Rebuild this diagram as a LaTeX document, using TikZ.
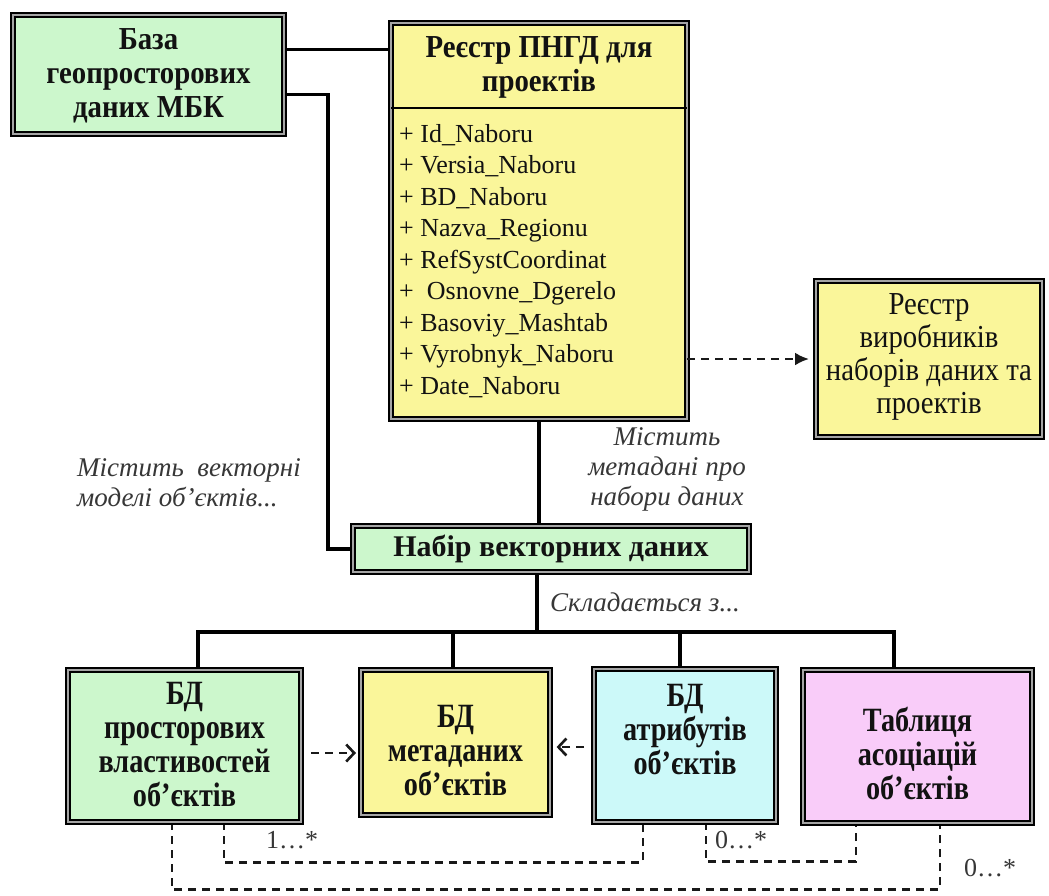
\documentclass[tikz,border=0pt]{standalone}
\usepackage{fontspec}
\setmainfont{Liberation Serif}
\newfontfamily\titlefont{Liberation Serif}[FakeStretch=0.9]
\newfontfamily\boxfont{Liberation Serif}[FakeStretch=0.83]
\usetikzlibrary{arrows.meta,backgrounds}
\definecolor{boxgreen}{RGB}{204,247,204}
\definecolor{boxyellow}{RGB}{250,246,154}
\definecolor{boxcyan}{RGB}{204,249,249}
\definecolor{boxpink}{RGB}{249,204,249}
\definecolor{ink}{RGB}{18,18,18}
\definecolor{note}{RGB}{55,55,55}
\definecolor{band}{RGB}{165,165,165}
\begin{document}
\begin{tikzpicture}[x=1pt,y=-1pt,
  frame/.style={draw=black, line width=2pt, double=band, double distance=1.8pt,
    inner sep=0pt, outer sep=0pt, text=ink, align=center},
  titletext/.style={font=\titlefont\fontsize{32}{34}\selectfont\bfseries, text=ink, align=center, inner sep=0pt},
  boldtext/.style={font=\boxfont\fontsize{34}{34}\selectfont\bfseries, text=ink, align=center, inner sep=0pt},
  plaintext/.style={font=\titlefont\fontsize{32}{33}\selectfont, text=ink, align=center, inner sep=0pt},
  attrtext/.style={font=\fontsize{26}{31.5}\selectfont, text=ink, align=left, inner sep=0pt},
  notetext/.style={font=\fontsize{27}{30}\selectfont\itshape, text=note, inner sep=0pt},
  multtext/.style={font=\fontsize{26}{28}\selectfont, text=note, inner sep=0pt},
  link/.style={draw=black, line width=3.2pt},
  dlink/.style={draw=black!90, line width=2.6pt, dash pattern=on 8pt off 6pt},
  barb/.style={-{Straight Barb[length=8pt,width=17pt,line width=2.6pt]}}
]
\useasboundingbox (0,0) rectangle (1049,895);

% upper boxes
\node[frame, fill=boxgreen, minimum width=271pt, minimum height=119pt] (baza) at (148.5,74.5) {};
\node[titletext] (bazatext) at (148.5,76) {База\\геопросторових\\даних МБК};
\node[frame, fill=boxyellow, minimum width=296pt, minimum height=396pt] (reg) at (539,221) {};
\node[titletext] (regtitle) at (539,67) {Реєстр ПНГД для\\проектів};
\node[attrtext, anchor=west] (regattr) at (399,261)
  {+ Id\_Naboru\\+ Versia\_Naboru\\+ BD\_Naboru\\+ Nazva\_Regionu\\+ RefSystCoordinat\\
   +\ \ Osnovne\_Dgerelo\\+ Basoviy\_Mashtab\\+ Vyrobnyk\_Naboru\\+ Date\_Naboru};
\node[frame, fill=boxyellow, minimum width=226pt, minimum height=156pt] (vyr) at (929,359) {};
\node[plaintext] (vyrtext) at (929,357) {Реєстр\\виробників\\наборів даних та\\проектів};

\node[frame, fill=boxgreen, minimum width=396pt, minimum height=46pt,
      font=\fontsize{30}{34}\selectfont\bfseries] (nabir) at (551,549) {Набір векторних даних};

% lower boxes
\node[frame, fill=boxgreen, minimum width=233pt, minimum height=152pt] (b1) at (184.5,746) {};
\node[frame, fill=boxyellow, minimum width=189pt, minimum height=145pt] (b2) at (455.5,742.5) {};
\node[frame, fill=boxcyan, minimum width=182pt, minimum height=153pt] (b3) at (685,745.5) {};
\node[frame, fill=boxpink, minimum width=229pt, minimum height=153pt] (b4) at (917.5,746.5) {};
\node[boldtext] (b1text) at (184.5,745) {БД\\просторових\\властивостей\\об’єктів};
\node[boldtext] (b2text) at (455.5,751) {БД\\метаданих\\об’єктів};
\node[boldtext] (b3text) at (685,730) {БД\\атрибутів\\об’єктів};
\node[boldtext] (b4text) at (917.5,753) {Таблиця\\асоціацій\\об’єктів};

% connector labels
\node[notetext, anchor=west, align=left] (noteA) at (77,483) {Містить \ векторні\\моделі об'єктів...};
\node[notetext, align=center] (noteB) at (667,469) {Містить\\метадані про\\набори даних};
\node[notetext, anchor=west] (noteC) at (550,602) {Складається з...};
\node[multtext] (m1) at (292,840) {1…*};
\node[multtext] (m2) at (741,840) {0…*};
\node[multtext] (m3) at (990,868) {0…*};

\coordinate (bus) at (537,632);

\begin{scope}[on background layer]
  \fill[white] (0,0) rectangle (1049,895);
  \draw[link] ([yshift=25pt]baza.east) -- ([yshift=25pt]baza.east -| reg.west);
  \draw[link] ([yshift=-20pt]baza.east) -| ([xshift=-25pt]nabir.west) -- (nabir.west);
  \draw[link] (reg.south) -- (reg.south |- nabir.north);
  \draw[link] (nabir.south -| bus) -- (bus);
  \draw[link] ([xshift=13.5pt]b1.north) |- (bus) -| ([xshift=-23.5pt]b4.north);
  \draw[link] ([xshift=-2.5pt]b2.north) -- ([xshift=-2.5pt]b2.north |- bus);
  \draw[link] ([xshift=-5pt]b3.north) -- ([xshift=-5pt]b3.north |- bus);
  \draw[dlink] ([xshift=39.5pt]b1.south) -- ++(0,40.6) -| ([xshift=-42pt]b3.south);
  \draw[dlink] ([xshift=21pt]b3.south) -- ++(0,39.6) -| ([xshift=-61.5pt]b4.south);
  \draw[dlink] ([xshift=-12.5pt]b1.south) -- ++(0,67.6) -| ([xshift=22.5pt]b4.south);
\end{scope}

% separator under the register title
\draw[black, line width=1.6pt] ([yshift=-85pt]reg.north west) -- ([yshift=-85pt]reg.north east);

% dependency arrows
\draw[dlink, -{Latex[length=14pt,width=13pt]}, shorten >=7pt] (reg.east |- vyr.west) -- (vyr.west);
\draw[dlink, barb, shorten <=10pt, shorten >=5pt] ([yshift=-7pt]b1.east) -- ([yshift=-7pt]b1.east -| b2.west);
\draw[dlink, barb, shorten <=10pt, shorten >=6.6pt] ([yshift=-1.5pt]b3.west) -- ([yshift=-1.5pt]b3.west -| b2.east);
\end{tikzpicture}
\end{document}
